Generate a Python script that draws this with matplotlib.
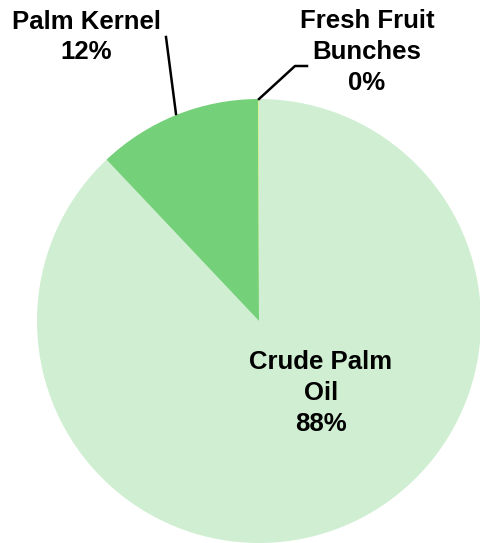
import matplotlib
matplotlib.use("Agg")
import matplotlib.pyplot as plt

categories = ["Crude Palm\nOil", "Palm Kernel", "Fresh Fruit\nBunches"]
values = [87.95, 12.0, 0.05]
colors = ["#D0EFD2", "#75D07A", "#E2F07A"]

W, H = 480, 543
fig = plt.figure(figsize=(W / 100, H / 100), dpi=100)
ax = fig.add_axes([0, 0, 1, 1])

cx, cy, r = 259, H - 321, 222
ax.pie(values, colors=colors, startangle=90, counterclock=False,
       center=(cx, cy), radius=r, frame=True,
       wedgeprops=dict(linewidth=0))
ax.set_xlim(0, W)
ax.set_ylim(0, H)
ax.set_aspect("equal")
ax.axis("off")

font = dict(family=["Liberation Sans", "DejaVu Sans"], fontweight="bold",
            fontsize=18.5, color="black", ha="center", va="center",
            linespacing=1.36)

total = sum(values)
pct = [f"{round(v / total * 100):.0f}%" for v in values]

# Crude palm oil label inside its wedge
ax.text(321, H - 393, f"{categories[0]}\n{pct[0]}", **font)

# Palm kernel label with leader line
ax.text(86, H - 37, f"{categories[1]}\n{pct[1]}", **font)
ax.plot([166, 176], [H - 37, H - 114], color="black", lw=1.8)

# Fresh fruit bunches label with elbow leader line
ax.text(367, H - 52, f"{categories[2]}\n{pct[2]}", **font)
ax.plot([259, 295, 307], [H - 99, H - 66, H - 66], color="black", lw=1.8)

fig.savefig("out.png", dpi=100)
